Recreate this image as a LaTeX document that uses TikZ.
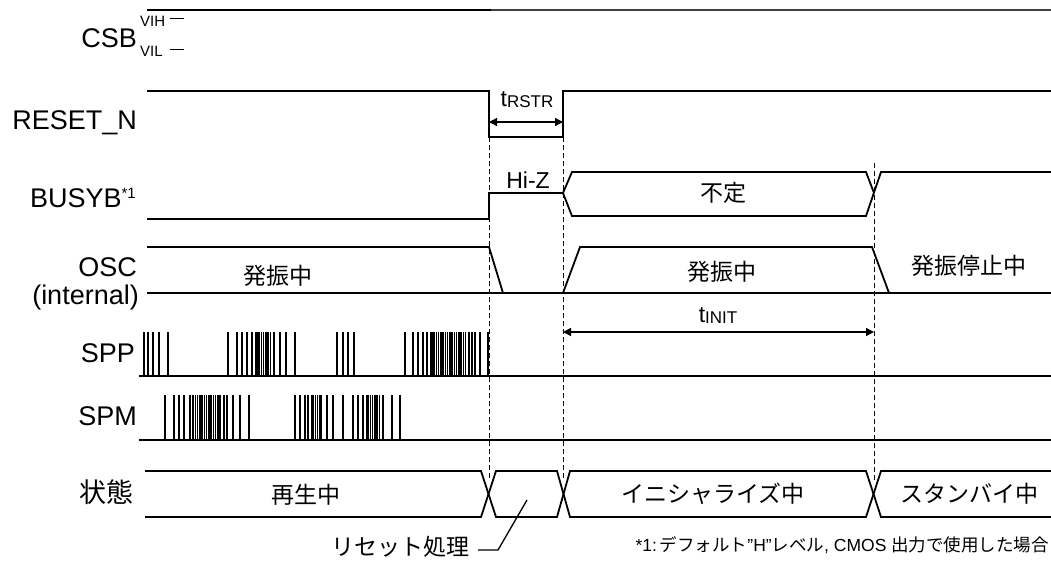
\documentclass[tikz,border=0pt]{standalone}
\usepackage{fontspec}
\setmainfont{Liberation Sans}
\newfontfamily\jp{Noto Sans CJK JP}
\usetikzlibrary{arrows.meta}
\tikzset{
  sig/.style={line width=1.8pt, line join=miter},
  guide/.style={line width=0.9pt, dash pattern=on 5pt off 3pt},
  pulse/.style={line width=1.2pt},
  thinline/.style={line width=1pt},
  lbl/.style={font=\fontsize{27}{29}\selectfont, anchor=base east, inner sep=0pt},
  lblj/.style={font=\jp\fontsize{27}{29}\selectfont, anchor=east, inner sep=0pt},
  tiny/.style={font=\fontsize{15}{16}\selectfont, anchor=base west, inner sep=0pt},
  jtxt/.style={font=\jp\fontsize{23}{25}\selectfont, inner sep=0pt},
  ltxt/.style={font=\fontsize{23}{25}\selectfont, inner sep=0pt, anchor=base},
  dimarrow/.style={line width=1.4pt, {Triangle[length=8pt,width=8pt]}-{Triangle[length=8pt,width=8pt]}},
}
\begin{document}
\begin{tikzpicture}[x=1pt,y=-1pt]
\useasboundingbox (0,0) rectangle (1051,560);

% ---------- labels ----------
\node[lbl] (csb) at (137,47) {CSB};
\node[tiny] (vih) at (140,26) {VIH};
\node[tiny] (vil) at (140,56) {VIL};
\draw[thinline] (170,18) -- (184,18);
\draw[thinline] (170,49) -- (184,49);
\node[lbl] (rst) at (137,129) {RESET\_N};
\node[lbl] (busy) at (136,207) {BUSYB\raisebox{9pt}{\fontsize{15}{16}\selectfont *1}};
\node[lbl] (osc) at (137,276) {OSC};
\node[lbl] (oscint) at (139,304) {(internal)};
\node[lbl] (spp) at (135,362) {SPP};
\node[lbl] (spm) at (137,425) {SPM};
\node[lblj] (state) at (134,492) {状態};

% ---------- CSB ----------
\draw[sig] (147,10) -- (491,10);
\draw[sig, black!75] (491,10) -- (1051,10);

% ---------- RESET_N ----------
\draw[sig] (147,91) -- (489,91) -- (489,137) -- (563,137) -- (563,91) -- (1051,91);
\coordinate (rA) at (489,122);
\coordinate (rB) at (563,122);
\draw[dimarrow] (rA) -- (rB);
\node[ltxt, anchor=base] (trstr) at (527,106) {t\raisebox{-1pt}{\fontsize{17}{18}\selectfont RSTR}};

% ---------- BUSYB ----------
\draw[sig] (147,219) -- (489,219) -- (489,193) -- (563,193);
\draw[sig] (563,193) -- (572,172) -- (866,172) -- (874,193);
\draw[sig] (563,193) -- (572,216) -- (866,216) -- (881,172) -- (1051,172);
\node[ltxt] (hiz) at (528,188) {Hi-Z};
\node[jtxt] (fut) at (723,193) {不定};

% ---------- OSC ----------
\draw[sig] (147,247) -- (489,247) -- (503,293);
\draw[sig] (147,293) -- (1051,293);
\draw[sig] (563,293) -- (580,247) -- (872,247) -- (889,293);
\node[jtxt] (osc1) at (278,276) {発振中};
\node[jtxt] (osc2) at (722,272) {発振中};
\node[jtxt] (osc3) at (969,266) {発振停止中};

% ---------- tINIT ----------
\coordinate (iA) at (563,332);
\coordinate (iB) at (874,332);
\draw[dimarrow] (iA) -- (iB);
\node[ltxt, anchor=base] (tinit) at (718,322) {t\raisebox{-1pt}{\fontsize{17}{18}\selectfont INIT}};

% ---------- SPP ----------
\draw[sig] (139,376) -- (1051,376);
\foreach \x in {144,148,153,159,168,
                228,237,242,247,252,256,274,280,286,295,
                337,343,348,354,
                405,413,418,423,427,431,469,472,475,480,488}
  \draw[pulse] (\x,332) -- (\x,376);
\foreach \x in {258,259.8,...,271}
  \draw[pulse] (\x,332) -- (\x,376);
\foreach \x in {433,434.8,...,467}
  \draw[pulse] (\x,332) -- (\x,376);

% ---------- SPM ----------
\draw[sig] (139,440) -- (1051,440);
\foreach \x in {165,174,179,184,190,193,224,227,233,240,249,
                295,300,305,308,327,333,343,353,358,363,383,392,400}
  \draw[pulse] (\x,395) -- (\x,440);
\foreach \x in {195.5,197.3,...,222}
  \draw[pulse] (\x,395) -- (\x,440);
\foreach \x in {312,313.8,...,322}
  \draw[pulse] (\x,395) -- (\x,440);
\foreach \x in {367,368.8,...,380}
  \draw[pulse] (\x,395) -- (\x,440);

% ---------- guide lines ----------
\draw[guide] (489,137) -- (489,480);
\draw[guide] (563,137) -- (563,480);
\draw[guide] (874,163) -- (874,480);

% ---------- state bus ----------
\draw[sig] (145,471) -- (481,471) -- (496,517) -- (557,517) -- (570,471) -- (866,471) -- (881,517) -- (1051,517);
\draw[sig] (145,517) -- (481,517) -- (496,471) -- (557,471) -- (570,517) -- (866,517) -- (881,471) -- (1051,471);
\node[jtxt] (s1) at (306,495) {再生中};
\node[jtxt] (s2) at (713,494) {イニシャライズ中};
\node[jtxt] (s3) at (969,494) {スタンバイ中};

% ---------- reset note ----------
\node[jtxt] (rnote) at (400,547) {リセット処理};
\coordinate (l1) at (478,550);
\coordinate (l2) at (498,550);
\coordinate (l3) at (527,500);
\draw[line width=1.3pt] (l1) -- (l2) -- (l3);

% ---------- footnote ----------
\node[inner sep=0pt, anchor=east, font=\fontsize{17.5}{20}\selectfont] (fn) at (1049,545)
  {*1:\,{\jp デフォルト}”H”{\jp レベル}, CMOS {\jp 出力で使用した場合}};
\end{tikzpicture}
\end{document}
